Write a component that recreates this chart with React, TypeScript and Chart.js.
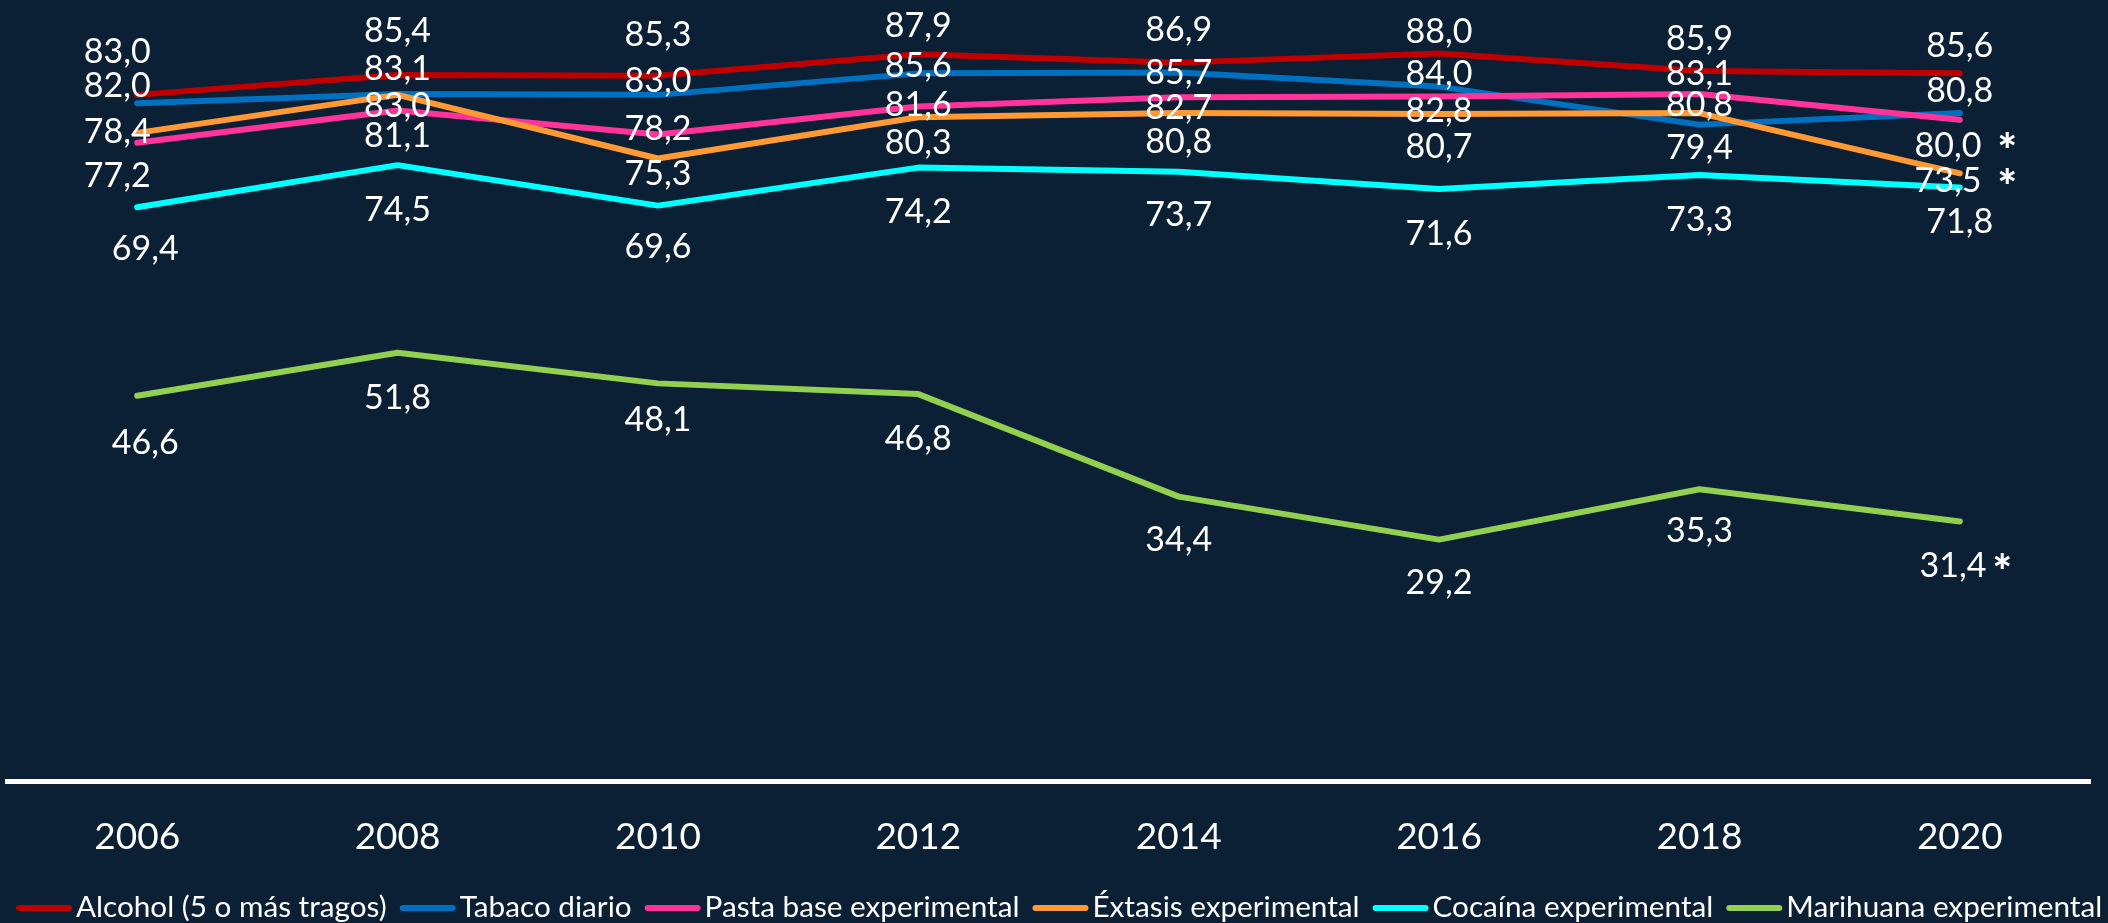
import React, { useEffect, useRef } from 'react';
import { Chart, registerables } from 'chart.js';

Chart.register(...registerables);

// ---------- data ----------
const years = ['2006', '2008', '2010', '2012', '2014', '2016', '2018', '2020'];
const seriesNames = [
  'Alcohol (5 o más tragos)',
  'Tabaco diario',
  'Pasta base experimental',
  'Éxtasis experimental',
  'Cocaína experimental',
  'Marihuana experimental',
];
const alcohol = [83.0, 85.4, 85.3, 87.9, 86.9, 88.0, 85.9, 85.6];
const tabaco = [82.0, 83.1, 83.0, 85.6, 85.7, 84.0, 79.4, 80.8];
const pastaBase = [77.2, 81.1, 78.2, 81.6, 82.7, 82.8, 83.1, 80.0];
const extasis = [78.4, 83.0, 75.3, 80.3, 80.8, 80.7, 80.8, 73.5];
const cocaina = [69.4, 74.5, 69.6, 74.2, 73.7, 71.6, 73.3, 71.8];
const marihuana = [46.6, 51.8, 48.1, 46.8, 34.4, 29.2, 35.3, 31.4];
// significant-change marks (asterisk) per series, by year index
const asteriskAlcohol: number[] = [];
const asteriskTabaco: number[] = [];
const asteriskPasta = [7];
const asteriskExtasis = [7];
const asteriskCocaina: number[] = [];
const asteriskMarihuana = [7];

// ---------- styling ----------
const BG = '#0B1F35';
const COLORS = ['#C00000', '#0070C0', '#FF3399', '#FF9933', '#00FFFF', '#92D050'];
const FONT = 'Lato, "Open Sans", "Noto Sans", sans-serif';
// vertical nudges (px) of each data label relative to its point (label placement only)
const LABEL_DY = [
  [-43, -44, -41, -28, -33, -22, -32, -27],
  [-17, -25, -14, -7, 0, -13, 23, -22],
  [33, 25, -6, -1, 11, 15, -20, 26],
  [-1, 11, 16, 26, 29, 33, -8, 8],
  [42, 45, 41, 44, 43, 45, 45, 35],
  [47, 45, 37, 45, 43, 43, 42, 45],
];

const allSeries = [alcohol, tabaco, pastaBase, extasis, cocaina, marihuana];
const allAsterisks = [asteriskAlcohol, asteriskTabaco, asteriskPasta, asteriskExtasis, asteriskCocaina, asteriskMarihuana];

const fmt = (v: number) => v.toFixed(1).replace('.', ',');

const bgPlugin = {
  id: 'bgFill',
  beforeDraw(chart: any) {
    const { ctx, width, height } = chart;
    ctx.save();
    ctx.fillStyle = BG;
    ctx.fillRect(0, 0, width, height);
    ctx.restore();
  },
};

const labelPlugin = {
  id: 'valueLabels',
  afterDatasetsDraw(chart: any) {
    const ctx = chart.ctx;
    ctx.save();
    ctx.fillStyle = '#FFFFFF';
    ctx.textBaseline = 'middle';
    chart.data.datasets.forEach((ds: any, di: number) => {
      const meta = chart.getDatasetMeta(di);
      meta.data.forEach((pt: any, i: number) => {
        const v = ds.data[i] as number;
        const txt = fmt(v);
        let x = pt.x;
        if (i === 0) x += di < 4 ? -20 : 8;
        const y = pt.y + LABEL_DY[di][i];
        const hasStar = allAsterisks[di].includes(i);
        ctx.font = `34px ${FONT}`;
        if (!hasStar) {
          ctx.textAlign = 'center';
          ctx.fillText(txt, x, y);
        } else {
          const w1 = ctx.measureText(txt).width;
          const gap = di === 5 ? 6 : 16;
          ctx.font = `900 46px ${FONT}`;
          const w2 = ctx.measureText('*').width;
          const total = w1 + gap + w2;
          const start = x + 6 - total / 2;
          ctx.textAlign = 'left';
          ctx.font = `34px ${FONT}`;
          ctx.fillText(txt, start, y);
          ctx.font = `900 46px ${FONT}`;
          ctx.fillText('*', start + w1 + gap, y + 7);
        }
      });
    });
    ctx.restore();
  },
};

const legendPlugin = {
  id: 'customLegend',
  afterDraw(chart: any) {
    const ctx = chart.ctx;
    ctx.save();
    const markerW = 56;
    const markerGap = 4;
    const itemGap = 13;
    const startX = 16;
    const endX = 2103;
    const n = seriesNames.length;
    ctx.font = `30px ${FONT}`;
    let tw30 = 0;
    seriesNames.forEach((s) => (tw30 += ctx.measureText(s).width));
    const avail = endX - startX - n * (markerW + markerGap) - (n - 1) * itemGap;
    const size = Math.min(32, (30 * avail) / tw30);
    ctx.font = `${size}px ${FONT}`;
    ctx.textBaseline = 'alphabetic';
    ctx.textAlign = 'left';
    let x = startX;
    seriesNames.forEach((s, i) => {
      ctx.strokeStyle = COLORS[i];
      ctx.lineWidth = 6;
      ctx.lineCap = 'round';
      ctx.beginPath();
      ctx.moveTo(x + 3, 908);
      ctx.lineTo(x + markerW - 3, 908);
      ctx.stroke();
      x += markerW + markerGap;
      ctx.fillStyle = '#FFFFFF';
      ctx.fillText(s, x, 917);
      x += ctx.measureText(s).width + itemGap;
    });
    ctx.restore();
  },
};

export default function App() {
  const ref = useRef<HTMLCanvasElement | null>(null);

  useEffect(() => {
    document.body.style.margin = '0';
    document.body.style.background = BG;
    const canvas = ref.current;
    if (!canvas) return;
    const chart = new Chart(canvas, {
      type: 'line',
      data: {
        labels: years,
        datasets: allSeries.map((d, i) => ({
          label: seriesNames[i],
          data: d,
          borderColor: COLORS[i],
          backgroundColor: COLORS[i],
          borderWidth: 6,
          borderCapStyle: 'round' as const,
          borderJoinStyle: 'round' as const,
          pointRadius: 0,
          pointHoverRadius: 0,
          tension: 0,
          fill: false,
          order: allSeries.length - i,
        })),
      },
      options: {
        responsive: false,
        animation: false,
        devicePixelRatio: 1,
        layout: { padding: { left: 7, right: 18, top: 37, bottom: 0 } },
        plugins: {
          legend: { display: false },
          tooltip: { enabled: false },
        },
        scales: {
          x: {
            offset: true,
            grid: { display: false, drawTicks: false },
            border: { display: true, color: '#FFFFFF', width: 5 },
            ticks: {
              color: '#FFFFFF',
              font: { family: FONT, size: 37 },
              padding: 34,
              maxRotation: 0,
              autoSkip: false,
            },
            afterFit: (scale: any) => {
              scale.height = 142;
            },
          },
          y: {
            display: false,
            min: 0,
            max: 90,
          },
        },
      },
      plugins: [bgPlugin, labelPlugin, legendPlugin],
    });
    return () => chart.destroy();
  }, []);

  return (
    <div style={{ width: 2108, height: 923, background: BG }}>
      <canvas ref={ref} width={2108} height={923} style={{ display: 'block', width: 2108, height: 923 }} />
    </div>
  );
}
